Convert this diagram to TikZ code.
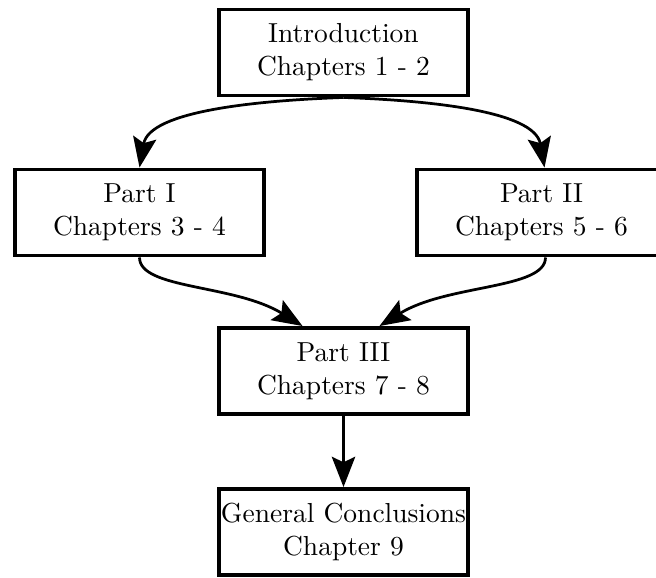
\documentclass[tikz,border=0pt]{standalone}
\usetikzlibrary{arrows.meta,calc}
\begin{document}
\begin{tikzpicture}[x=0.36364pt,y=0.36364pt,
  chapbox/.style={draw,line width=1.4pt,minimum width=90.5pt,minimum height=31.3pt,
    inner sep=0pt,align=center,font=\normalsize},
  flow/.style={line width=1pt,-{Stealth[length=11pt,width=8.5pt,inset=2pt]}}]
\useasboundingbox (0,0) rectangle (656,-578);
\node[chapbox] (intro) at (343.5,-52.5) {Introduction\\Chapters 1 - 2};
\node[chapbox] (p1) at (139.5,-212.5) {Part I\\Chapters 3 - 4};
\node[chapbox] (p2) at (541.5,-212.5) {Part II\\Chapters 5 - 6};
\node[chapbox] (p3) at (343.5,-371) {Part III\\Chapters 7 - 8};
\node[chapbox] (gc) at (343.5,-532) {General Conclusions\\Chapter 9};
\coordinate (p2in) at ($(p2.north)+(3,0)$);
\coordinate (p2out) at ($(p2.south)+(4,0)$);
\coordinate (p3inl) at ($(p3.north)+(-41,0)$);
\coordinate (p3inr) at ($(p3.north)+(36,0)$);
\draw[flow] (intro.south) .. controls +(-84,-3) and +(10,57) .. (p1.north);
\draw[flow] (intro.south) .. controls +(84,-3) and +(-10,57) .. (p2in);
\draw[flow] (p1.south) .. controls +(0,-32) and +(-68,42) .. (p3inl);
\draw[flow] (p2out) .. controls +(0,-32) and +(68,42) .. (p3inr);
\draw[flow] (p3.south) -- (gc.north);
\end{tikzpicture}
\end{document}
